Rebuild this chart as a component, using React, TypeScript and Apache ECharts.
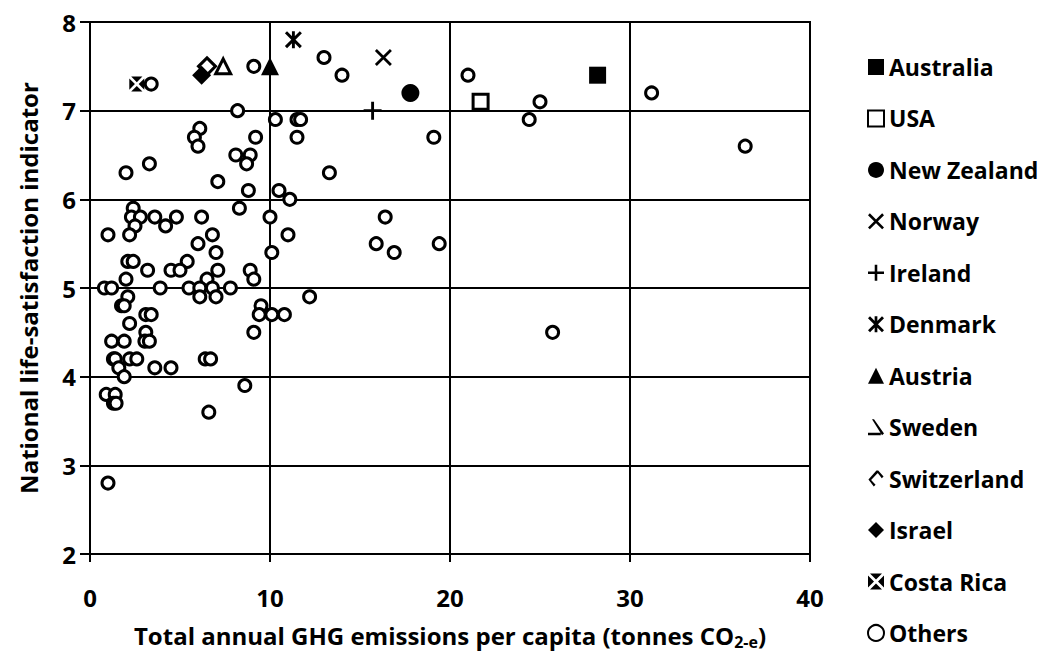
import React, { useEffect, useRef } from "react";
import * as echarts from "echarts";

const xTicks = { min: 0, max: 40, interval: 10 };
const yTicks = { min: 2, max: 8, interval: 1 };

const countries = [
  "Australia", "USA", "New Zealand", "Norway", "Ireland", "Denmark",
  "Austria", "Sweden", "Switzerland", "Israel", "Costa Rica",
];
const countryX = [28.2, 21.7, 17.8, 16.3, 15.7, 11.3, 10.0, 7.4, 6.5, 6.2, 2.6];
const countryY = [7.4, 7.1, 7.2, 7.6, 7.0, 7.8, 7.5, 7.5, 7.5, 7.4, 7.3];

const othersLabel = "Others";
const othersData: [number, number][] = [
  [3.4, 7.3], [9.1, 7.5], [13.0, 7.6], [14.0, 7.4], [21.0, 7.4], [25.0, 7.1], [24.4, 6.9],
  [31.2, 7.2], [36.4, 6.6], [25.7, 4.5], [8.2, 7.0], [10.3, 6.9], [11.5, 6.9], [11.7, 6.9],
  [6.1, 6.8], [5.8, 6.7], [6.0, 6.6], [9.2, 6.7], [11.5, 6.7], [19.1, 6.7], [8.1, 6.5],
  [8.9, 6.5], [8.7, 6.4], [3.3, 6.4], [2.0, 6.3], [13.3, 6.3], [7.1, 6.2], [8.8, 6.1],
  [10.5, 6.1], [11.1, 6.0], [2.4, 5.9], [8.3, 5.9], [2.3, 5.8], [2.8, 5.8], [3.6, 5.8],
  [4.8, 5.8], [6.2, 5.8], [10.0, 5.8], [16.4, 5.8], [2.5, 5.7], [4.2, 5.7], [1.0, 5.6],
  [2.2, 5.6], [6.8, 5.6], [11.0, 5.6], [6.0, 5.5], [15.9, 5.5], [19.4, 5.5], [7.0, 5.4],
  [10.1, 5.4], [16.9, 5.4], [2.1, 5.3], [2.4, 5.3], [5.4, 5.3], [3.2, 5.2], [4.5, 5.2],
  [5.0, 5.2], [7.1, 5.2], [8.9, 5.2], [2.0, 5.1], [6.5, 5.1], [9.1, 5.1], [0.8, 5.0],
  [1.2, 5.0], [3.9, 5.0], [5.5, 5.0], [6.1, 5.0], [6.8, 5.0], [7.8, 5.0], [2.1, 4.9],
  [6.1, 4.9], [7.0, 4.9], [12.2, 4.9], [1.75, 4.8], [1.9, 4.8], [9.5, 4.8], [3.1, 4.7],
  [3.4, 4.7], [9.4, 4.7], [10.1, 4.7], [10.8, 4.7], [2.2, 4.6], [3.1, 4.5], [9.1, 4.5],
  [1.2, 4.4], [1.9, 4.4], [3.05, 4.4], [3.3, 4.4], [1.3, 4.2], [1.4, 4.2], [2.2, 4.2],
  [2.6, 4.2], [6.4, 4.2], [6.7, 4.2], [1.6, 4.1], [3.6, 4.1], [4.5, 4.1], [1.9, 4.0],
  [8.6, 3.9], [0.9, 3.8], [1.4, 3.8], [1.3, 3.7], [1.45, 3.7], [6.6, 3.6], [1.0, 2.8],
];

const xTitle = "Total annual GHG emissions per capita (tonnes CO{sub|2-e})";
const yTitle = "National life-satisfaction indicator";

const FONT = "Open Sans";

const P_X =
  "path://M0,2.3 L2.3,0 L20,17.7 L17.7,20 Z M17.7,0 L20,2.3 L2.3,20 L0,17.7 Z";
const P_PLUS =
  "path://M8.4,0 L11.6,0 L11.6,8.4 L20,8.4 L20,11.6 L11.6,11.6 L11.6,20 L8.4,20 L8.4,11.6 L0,11.6 L0,8.4 L8.4,8.4 Z";
const P_STAR =
  "path://M0,2.5 L2.5,0 L20,17.5 L17.5,20 Z M17.5,0 L20,2.5 L2.5,20 L0,17.5 Z M8.3,0 L11.7,0 L11.7,20 L8.3,20 Z";
const P_XBOX =
  "path://M2.5,0 L17.5,0 L10,7.5 Z M20,2.5 L20,17.5 L12.5,10 Z M17.5,20 L2.5,20 L10,12.5 Z M0,17.5 L0,2.5 L7.5,10 Z";
const P_SWE_LEG =
  "path://M0,17 L16,17 L16,20 L0,20 Z M5,0 L7.5,0 L20,18 L17.5,20 Z";
const P_SUI_LEG =
  "path://M0,10 L9,0 L11,2 L3,10.5 L8,16 L6,18 Z M9,0 L11,0 L17,6.5 L15,8.5 L10,2 Z";

type Sty = { symbol: string; size: number; fill: string; border: number };
const styles: Sty[] = [
  { symbol: "rect", size: 17, fill: "#000", border: 0 },
  { symbol: "rect", size: 15, fill: "#fff", border: 3 },
  { symbol: "circle", size: 18, fill: "#000", border: 0 },
  { symbol: P_X, size: 17, fill: "#000", border: 0 },
  { symbol: P_PLUS, size: 18, fill: "#000", border: 0 },
  { symbol: P_STAR, size: 17, fill: "#000", border: 0 },
  { symbol: "triangle", size: 18, fill: "#000", border: 0 },
  { symbol: "triangle", size: 15, fill: "#fff", border: 3 },
  { symbol: "diamond", size: 17, fill: "#fff", border: 3 },
  { symbol: "diamond", size: 19, fill: "#000", border: 0 },
  { symbol: P_XBOX, size: 15, fill: "#000", border: 0 },
];

export default function App() {
  const ref = useRef<HTMLDivElement>(null);
  useEffect(() => {
    document.body.style.margin = "0";
    if (!ref.current) return;
    const chart = echarts.init(ref.current, undefined, { renderer: "svg" });

    const series: any[] = [
      {
        name: othersLabel,
        type: "scatter",
        data: othersData,
        symbol: "circle",
        symbolSize: 12,
        itemStyle: { color: "#fff", borderColor: "#000", borderWidth: 3, opacity: 1 },
        z: 2,
      },
    ];
    countries.forEach((c, i) => {
      const s = styles[i];
      series.push({
        name: c,
        type: "scatter",
        data: [[countryX[i], countryY[i]]],
        symbol: s.symbol,
        symbolSize: s.size,
        itemStyle: {
          color: s.fill,
          borderColor: "#000",
          borderWidth: s.border,
          opacity: 1,
        },
        z: 3,
      });
    });

    const legendData: any[] = countries.map((c) => {
      if (c === "Sweden")
        return { name: c, icon: P_SWE_LEG, itemStyle: { color: "#000", borderWidth: 0 } };
      if (c === "Switzerland")
        return { name: c, icon: P_SUI_LEG, itemStyle: { color: "#000", borderWidth: 0 } };
      return { name: c };
    });
    legendData.push({ name: othersLabel });

    const axisText = { fontFamily: FONT, fontWeight: "bold", fontSize: 24, color: "#000" };

    chart.setOption({
      animation: false,
      backgroundColor: "#fff",
      grid: {
        left: 90,
        right: 239,
        top: 22,
        bottom: 99,
        show: true,
        borderColor: "#000",
        borderWidth: 2,
        backgroundColor: "transparent",
      },
      xAxis: {
        type: "value",
        ...xTicks,
        name: xTitle,
        nameLocation: "middle",
        nameGap: 66,
        nameTextStyle: {
          ...axisText,
          rich: {
            sub: { fontFamily: FONT, fontWeight: "bold", fontSize: 16, color: "#000", padding: [14, 0, 0, 0] },
          },
        },
        axisLine: { show: true, lineStyle: { color: "#000", width: 2 } },
        axisTick: { show: true, length: 8, lineStyle: { color: "#000", width: 2 } },
        splitLine: { show: true, lineStyle: { color: "#000", width: 2 } },
        axisLabel: { ...axisText, margin: 31 },
      },
      yAxis: {
        type: "value",
        ...yTicks,
        name: yTitle,
        nameLocation: "middle",
        nameGap: 50,
        nameTextStyle: axisText,
        axisLine: { show: true, lineStyle: { color: "#000", width: 2 } },
        axisTick: { show: true, length: 10, lineStyle: { color: "#000", width: 2 } },
        splitLine: { show: true, lineStyle: { color: "#000", width: 2 } },
        axisLabel: { ...axisText, margin: 14 },
      },
      legend: {
        orient: "vertical",
        left: 862,
        top: 50,
        itemWidth: 16,
        itemHeight: 16,
        itemGap: 27.45,
        data: legendData,
        textStyle: { ...axisText, fontSize: 23, lineHeight: 24 },
        selectedMode: false,
      },
      series,
    });
    return () => chart.dispose();
  }, []);
  return <div ref={ref} style={{ width: 1049, height: 655 }} />;
}
